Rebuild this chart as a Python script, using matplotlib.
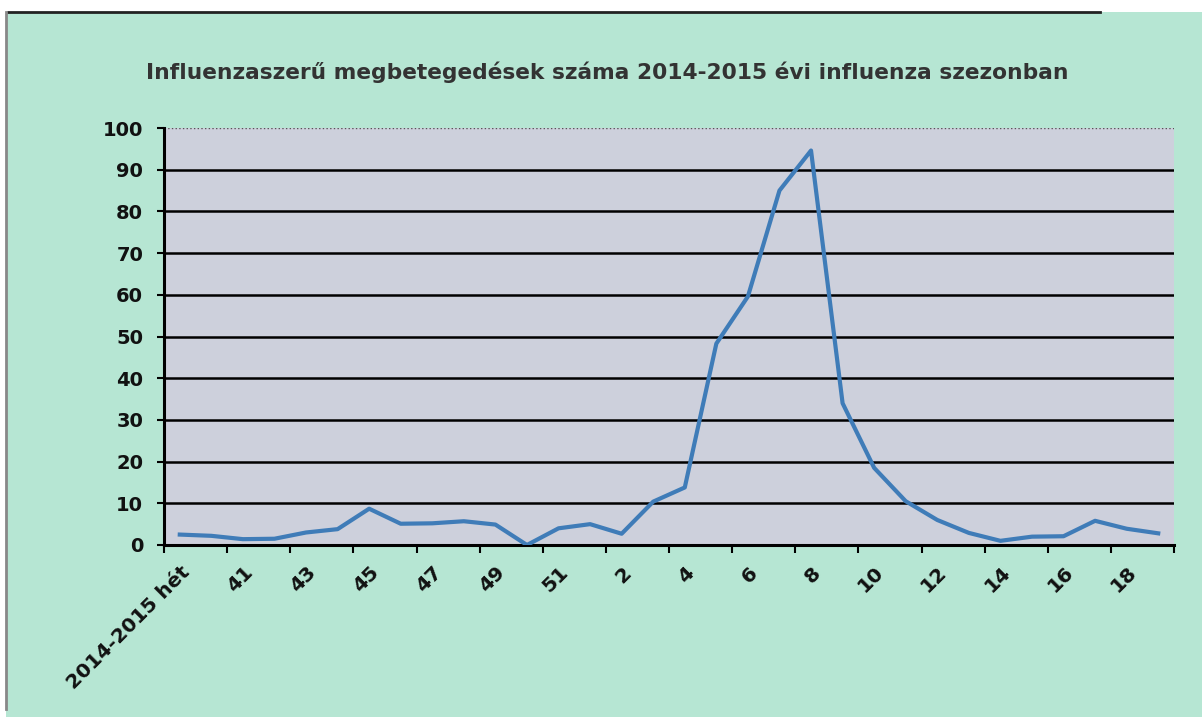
import matplotlib.pyplot as plt
from matplotlib.patches import Rectangle

# weekly values (cases, 2014-2015 season)
weeks = ["2014-2015 hét", "40", "41", "42", "43", "44", "45", "46", "47", "48",
         "49", "50", "51", "1", "2", "3", "4", "5", "6", "7", "8", "9", "10",
         "11", "12", "13", "14", "15", "16", "17", "18", "19"]
cases = [2.5, 2.2, 1.4, 1.5, 3.0, 3.8, 8.7, 5.1, 5.2, 5.7, 4.9, 0.0, 4.0, 5.0,
         2.7, 10.4, 13.8, 48.3, 59.6, 85.0, 94.6, 34.0, 18.5, 10.5, 6.0, 2.9,
         1.0, 2.0, 2.1, 5.8, 3.9, 2.8]
yticks = list(range(0, 101, 10))

bg = '#b6e6d3'
plot_bg = '#cdd0dc'
line_col = '#3f7cb8'
font = 'DejaVu Sans'

fig = plt.figure(figsize=(12.02, 7.17), dpi=100, facecolor='white')
fig.patches.append(Rectangle((6 / 1202, 0), 1196 / 1202, 705 / 717,
                             transform=fig.transFigure, facecolor=bg,
                             edgecolor='none', zorder=-10))
# scanned frame edges: dark top, grey left
fig.add_artist(plt.Line2D([8 / 1202, 1100 / 1202], [705 / 717, 705 / 717],
                          transform=fig.transFigure, color='#222222', linewidth=2))
fig.add_artist(plt.Line2D([6 / 1202, 6 / 1202], [8 / 717, 705 / 717],
                          transform=fig.transFigure, color='#888888', linewidth=2))

ax = fig.add_axes([164 / 1202, 172 / 717, 1010 / 1202, 417 / 717])
ax.set_facecolor(plot_bg)

x = list(range(len(weeks)))
ax.plot(x, cases, color=line_col, linewidth=3, solid_joinstyle='round', zorder=3)

ax.set_xlim(-0.5, len(weeks) - 0.5)
ax.set_ylim(0, 100)

# horizontal gridlines
for v in yticks[1:-1]:
    ax.axhline(v, color='black', linewidth=1.8, zorder=1)
ax.axhline(100, color='#555555', linewidth=1, linestyle=':', zorder=1)

ax.set_yticks(yticks)
ax.set_yticklabels([str(v) for v in yticks], fontsize=14, fontweight='bold',
                   family=font, color='#111111')
ax.tick_params(axis='y', length=5, width=1.5, pad=10, direction='out')

# tick marks between categories, labels on every other category
ax.set_xticks([i - 0.5 for i in range(0, len(weeks) + 1, 2)])
ax.set_xticklabels([])
ax.set_xticks(x[::2], minor=True)
ax.set_xticklabels(weeks[::2], minor=True, rotation=45, ha='right',
                   rotation_mode='anchor', fontsize=14.5, fontweight='bold',
                   family=font, color='#111111')
ax.tick_params(axis='x', which='major', length=6, width=1.5, direction='out')
ax.tick_params(axis='x', which='minor', length=0, pad=13)

for s in ['top', 'right']:
    ax.spines[s].set_visible(False)
ax.spines['left'].set_linewidth(2.2)
ax.spines['bottom'].set_linewidth(2.2)

fig.text(0.505, 1 - 72 / 717,
         'Influenzaszerű megbetegedések száma 2014-2015 évi influenza szezonban',
         ha='center', va='center', fontsize=15.7, fontweight='bold',
         family=font, color='#333333')

fig.savefig('out.png', dpi=100, facecolor=fig.get_facecolor())
